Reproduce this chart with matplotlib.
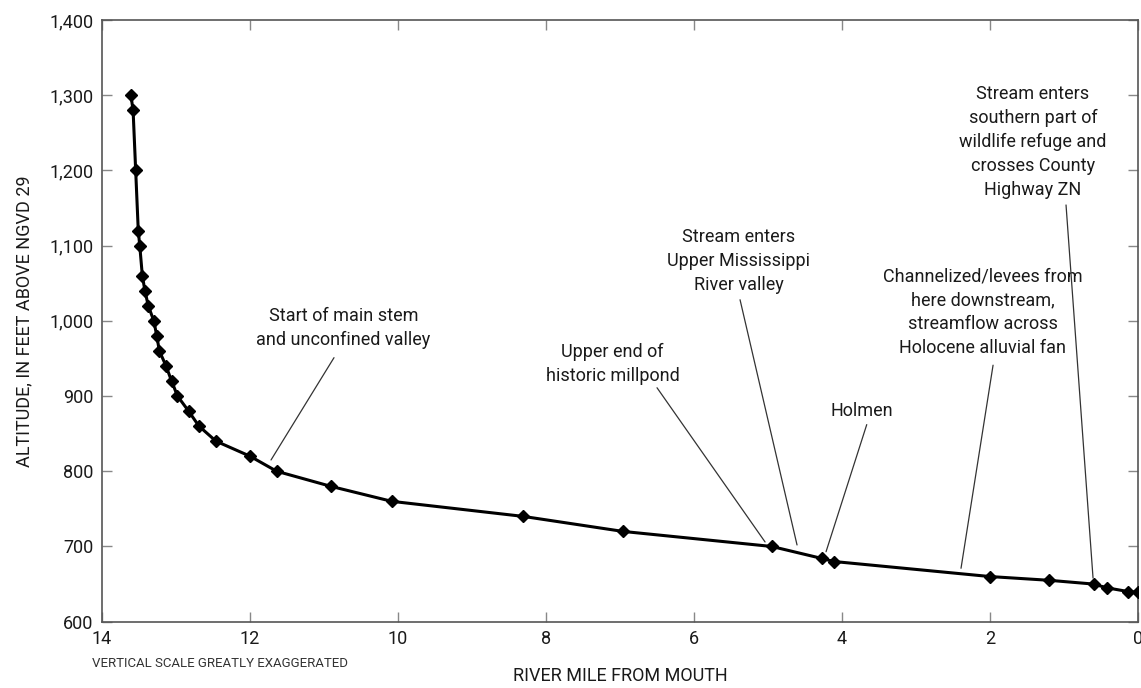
import matplotlib
matplotlib.use("Agg")
import matplotlib.pyplot as plt
from matplotlib.ticker import FuncFormatter

plt.rcParams['font.family'] = ['Roboto', 'DejaVu Sans']

# river profile (river mile from mouth, altitude in feet above NGVD 29)
river_mile = [13.61, 13.58, 13.545, 13.51, 13.49, 13.455, 13.42, 13.375, 13.30,
              13.26, 13.225, 13.135, 13.06, 12.98, 12.83, 12.69, 12.46, 12.0,
              11.64, 10.91, 10.085, 8.31, 6.96, 4.95, 4.27, 4.11, 2.0, 1.2,
              0.6, 0.42, 0.13, 0.0]
altitude = [1300, 1280, 1200, 1120, 1100, 1060, 1040, 1020, 1000, 980, 960,
            940, 920, 900, 880, 860, 840, 820, 800, 780, 760, 740, 720, 700,
            684, 680, 660, 655, 650, 645, 640, 639]

x_ticks = [14, 12, 10, 8, 6, 4, 2, 0]
y_ticks = [600, 700, 800, 900, 1000, 1100, 1200, 1300, 1400]

labels = [
    "Start of main stem\nand unconfined valley",
    "Upper end of\nhistoric millpond",
    "Stream enters\nUpper Mississippi\nRiver valley",
    "Holmen",
    "Channelized/levees from\nhere downstream,\nstreamflow across\nHolocene alluvial fan",
    "Stream enters\nsouthern part of\nwildlife refuge and\ncrosses County\nHighway ZN",
]
# label centre, leader start, leader end (data units)
label_pos = [(10.74, 990), (7.10, 943), (5.40, 1080), (3.73, 880), (2.10, 1011), (1.42, 1238)]
leader_from = [(10.865, 951), (6.50, 911), (5.378, 1028), (3.666, 862), (1.959, 941), (0.973, 1154)]
leader_to = [(11.716, 815), (5.04, 706), (4.608, 702), (4.216, 693), (2.392, 671), (0.608, 658)]

fig = plt.figure(figsize=(11.41, 6.88), dpi=100)
ax = fig.add_axes([0.0894, 0.0964, 0.908, 0.8746])

ax.plot(river_mile, altitude, color='black', lw=2.2, marker='D', ms=6,
        markeredgecolor='black', markerfacecolor='black', zorder=3)

for txt, (tx, ty), p0, p1 in zip(labels, label_pos, leader_from, leader_to):
    ax.text(tx, ty, txt, ha='center', va='center', fontsize=13,
            color='#1a1a1a', linespacing=1.42)
    ax.annotate('', xy=p1, xytext=p0,
                arrowprops=dict(arrowstyle='-', color='#333333', lw=0.9,
                                shrinkA=0, shrinkB=0))

ax.set_xlim(14, 0)
ax.set_ylim(600, 1400)
ax.set_xticks(x_ticks)
ax.set_yticks(y_ticks)
ax.yaxis.set_major_formatter(FuncFormatter(lambda v, p: f"{int(v):,}"))
ax.tick_params(direction='in', length=7, width=1, colors='#888888',
               labelcolor='#1a1a1a', labelsize=13, top=True, right=True, pad=6)
for s in ax.spines.values():
    s.set_color('#555555')
    s.set_linewidth(1.2)

ax.set_xlabel("RIVER MILE FROM MOUTH", fontsize=13, color='#1a1a1a', labelpad=14)
ax.set_ylabel("ALTITUDE, IN FEET ABOVE NGVD 29", fontsize=13, color='#1a1a1a', labelpad=12)
fig.text(0.0806, 0.036, "VERTICAL SCALE GREATLY EXAGGERATED", fontsize=9.5,
         color='#333333', ha='left', va='center')

fig.savefig("out.png", dpi=100)
